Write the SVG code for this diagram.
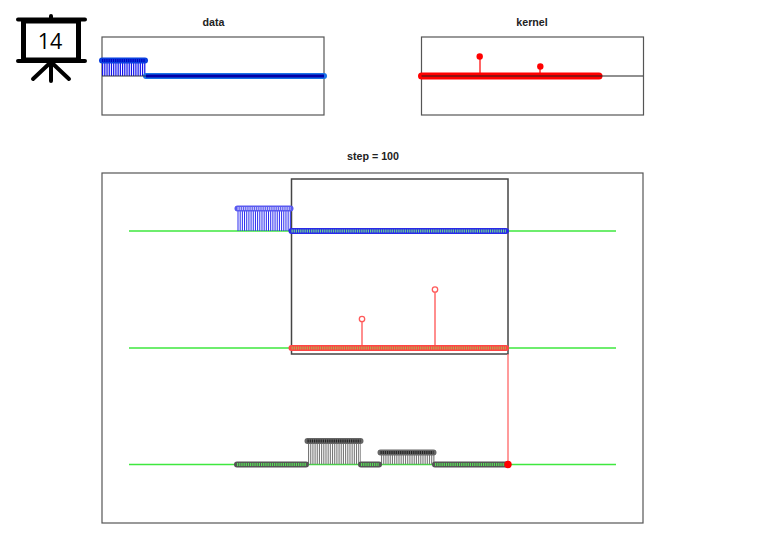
<svg xmlns="http://www.w3.org/2000/svg" width="759" height="548" viewBox="0 0 759 548">
<style>
text{font-family:"Liberation Sans",Arial,sans-serif;font-weight:bold;font-size:10.7px;fill:#222;text-anchor:middle}
.box{fill:none;stroke:#555;stroke-width:1.2}
.green{stroke:#3fe83f;stroke-width:1.3;fill:none}
.row{fill:none;stroke-linecap:round;stroke-width:6}
.dots{fill:none;stroke-width:2.8;stroke-dasharray:1.2 .98}
.stem{fill:none;stroke-width:2;stroke-dasharray:1.1 1.08}
.i{stroke:#000;fill:none;stroke-linecap:round}
</style>
<rect width="759" height="548" fill="#fff"/>
<g id="icon">
<path class="i" stroke-width="4" d="M18 19.500H85M18 61H85M51 16V19M51 62V81M51 62L33 79M51 62L69 79"/>
<rect x="23.500" y="21" width="55" height="39" fill="#fff" stroke="#000" stroke-width="5"/>
<text x="50" y="49" style="font-family:'Open Sans',sans-serif;font-weight:normal;font-size:21.500px;fill:#000">14</text>
</g>
<g id="data">
<text x="213.500" y="26">data</text>
<rect class="box" x="102" y="37" width="222" height="78"/>
<path class="stem" stroke="#1010ee" d="M102 68.500H146" style="stroke-width:15;stroke-dasharray:1.2 1.02"/>
<path d="M146 76H324" class="row" stroke="#1a73e8"/>
<path d="M102 60.500H145" class="row" stroke="#0a3fe0"/>
<path d="M102 60.500H145" class="dots" stroke="#0000c0"/>
<path d="M146 76H324" style="fill:none;stroke:#0000a8;stroke-width:3"/>
<path d="M102 76H146" style="fill:none;stroke:#334;stroke-width:1"/>
</g>
<g id="kernel">
<text x="532" y="26">kernel</text>
<rect class="box" x="421.500" y="37" width="222" height="78"/>
<path d="M480 57V76M540 67V76" style="fill:none;stroke:#f00;stroke-width:1.200"/>
<circle cx="479.700" cy="56.500" r="3.200" fill="#f00"/>
<circle cx="540.300" cy="66.500" r="3.200" fill="#f00"/>
<path d="M421.500 76H599" class="row" stroke="#f00" style="stroke-width:7"/>
<path d="M421.500 76H643" style="fill:none;stroke:#222;stroke-width:1.100"/>
</g>
<g id="step">
<text x="373" y="160">step = 100</text>
<rect class="box" x="102" y="173" width="541" height="350"/>
<path class="green" d="M129 231H616M129 348H616M129 464.500H616"/>
<rect x="291.500" y="179" width="216.500" height="175" fill="none" stroke="#444" stroke-width="1.500"/>
</g>
<g id="blue-series">
<path class="stem" stroke="#2a2af0" d="M237.500 219H291" style="stroke-width:24;stroke-dasharray:1 1.18"/>
<path class="row" stroke="#5a5af0" d="M237.500 208.500H290.500"/>
<path class="dots" stroke="#fff" d="M237.500 208.500H290.500" style="stroke-opacity:.65"/>
<path class="row" stroke="#2a2ae8" d="M291.500 231H506"/>
<path class="dots" stroke="#70d890" d="M291.500 231H506"/>
</g>
<g id="red-series">
<path d="M362 319V348M435 290V348" style="fill:none;stroke:#ff6a6a;stroke-width:1.500"/>
<circle cx="362" cy="319" r="2.700" fill="#fff" stroke="#ff5a5a" stroke-width="1.300"/>
<circle cx="435" cy="289.500" r="2.700" fill="#fff" stroke="#ff5a5a" stroke-width="1.300"/>
<path class="row" stroke="#ff4545" d="M291.500 348H506"/>
<path class="dots" stroke="#b8a850" d="M291.500 348H506"/>
</g>
<g id="black-series">
<path class="stem" stroke="#777" d="M308 452.500H361" style="stroke-width:24;stroke-dasharray:1.100 1.080"/>
<path class="stem" stroke="#777" d="M381 458.500H435" style="stroke-width:12;stroke-dasharray:1.100 1.080"/>
<path class="row" stroke="#555" d="M237 464.500H306M361 464.500H379M435 464.500H506"/>
<path class="dots" stroke="#58e058" d="M237 464.500H306M361 464.500H379M435 464.500H506"/>
<path class="row" stroke="#666" d="M307.500 441H360.500M380.500 452.500H433.500"/>
<path class="dots" stroke="#222" d="M307.500 441H360.500M380.500 452.500H433.500"/>
</g>
<g id="connectors">
<path d="M508 354V464.500" style="fill:none;stroke:#ff7a7a;stroke-width:1.500"/>
<circle cx="508" cy="464.500" r="3.700" fill="#f00"/>
</g>
</svg>
